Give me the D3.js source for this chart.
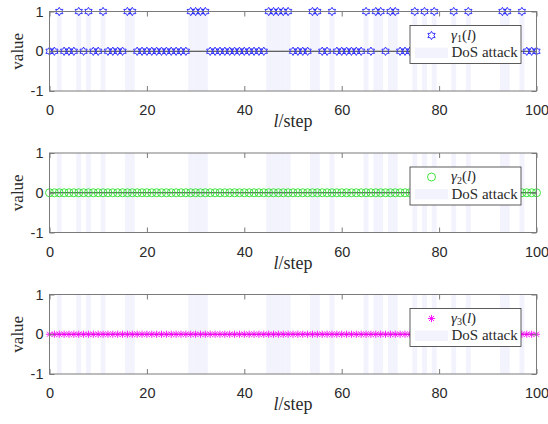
<!DOCTYPE html>
<html>
<head>
<meta charset="utf-8">
<script src="https://cdn.jsdelivr.net/npm/d3@7"></script>
<style>
body { margin: 0; background: #fff; }
svg { display: block; }
.serif { font-family: "Liberation Serif", "DejaVu Serif", "Times New Roman", serif; font-weight: normal; }
.sans { font-family: "Liberation Sans", Arial, sans-serif; }
</style>
</head>
<body>
<svg id="chart" width="548" height="424"></svg>
<script>
// steps l = 0..100
var steps = d3.range(0, 101)

// steps under DoS attack (shaded bands)
var dosSteps = [2, 6, 8, 11, 16, 17, 29, 30, 31, 32, 45, 46, 47, 48, 49, 54, 55, 58,
                65, 67, 68, 70, 71, 75, 77, 79, 83, 86, 93, 94, 97]

// gamma_1(l)
var gamma1 = [0,0,1,0,0,0,1,0,1,0,
              0,1,0,0,0,0,1,1,0,0,
              0,0,0,0,0,0,0,0,0,1,
              1,1,1,0,0,0,0,0,0,0,
              0,0,0,0,0,1,1,1,1,1,
              0,0,0,0,1,1,0,0,1,0,
              0,0,0,0,0,1,0,1,1,0,
              1,1,0,0,0,1,0,1,0,1,
              0,0,0,1,0,0,1,0,0,0,
              0,0,0,1,1,0,0,1,0,0,
              0]

// gamma_2(l) and gamma_3(l) stay at zero
var gamma2 = [0,0,0,0,0,0,0,0,0,0, 0,0,0,0,0,0,0,0,0,0, 0,0,0,0,0,0,0,0,0,0,
              0,0,0,0,0,0,0,0,0,0, 0,0,0,0,0,0,0,0,0,0, 0,0,0,0,0,0,0,0,0,0,
              0,0,0,0,0,0,0,0,0,0, 0,0,0,0,0,0,0,0,0,0, 0,0,0,0,0,0,0,0,0,0,
              0,0,0,0,0,0,0,0,0,0, 0]
var gamma3 = [0,0,0,0,0,0,0,0,0,0, 0,0,0,0,0,0,0,0,0,0, 0,0,0,0,0,0,0,0,0,0,
              0,0,0,0,0,0,0,0,0,0, 0,0,0,0,0,0,0,0,0,0, 0,0,0,0,0,0,0,0,0,0,
              0,0,0,0,0,0,0,0,0,0, 0,0,0,0,0,0,0,0,0,0, 0,0,0,0,0,0,0,0,0,0,
              0,0,0,0,0,0,0,0,0,0, 0]

var xTicks = [0, 20, 40, 60, 80, 100]
var yTicks = [-1, 0, 1]
var subscripts = ["1", "2", "3"]

// Layout
const svg = d3.select("#chart")
const panelTops = [11.5, 153, 294.5]
const h = 79.5
const bandColor = "#f3f3fd"
const axisColor = "#7a7a7a"
const textColor = "#2a2a2a"

const x = d3.scaleLinear().domain([0, 100]).range([49.5, 536.5])
const y = d3.scaleLinear().domain([-1, 1]).range([h, 0])
const stepW = x(1) - x(0)

// six-pointed star outline
function hexagram(r) {
    var pts = []
    for (var i = 0; i < 12; i++) {
        var a = -Math.PI / 2 + i * Math.PI / 6
        var rr = i % 2 == 0 ? r : r / Math.sqrt(3)
        pts.push([rr * Math.cos(a), rr * Math.sin(a)])
    }
    return "M" + pts.map(p => p[0].toFixed(2) + "," + p[1].toFixed(2)).join("L") + "Z"
}
// eight-armed asterisk
function asterisk(r) {
    var d = r * Math.SQRT1_2
    return `M${-r},0L${r},0M0,${-r}L0,${r}M${-d},${-d}L${d},${d}M${-d},${d}L${d},${-d}`
}

const panels = [
    { values: gamma1, color: "#2424ff", marker: hexagram(4.2) },
    { values: gamma2, color: "#2ee02e", marker: "circle" },
    { values: gamma3, color: "#ff00ff", marker: asterisk(3.6) }
]

function drawMarker(sel, p) {
    if (p.marker == "circle") {
        sel.append("circle").attr("r", 4).attr("fill", "none")
        .attr("stroke", p.color).attr("stroke-width", 0.9)
    } else {
        sel.append("path").attr("d", p.marker).attr("fill", "none")
        .attr("stroke", p.color).attr("stroke-width", 0.9)
    }
}

panels.forEach(function (p, i) {
    const g = svg.append("g").attr("transform", `translate(0,${panelTops[i]})`)

    // DoS bands
    g.selectAll("rect.band")
    .data(dosSteps)
    .enter().append("rect")
    .attr("class", "band")
    .attr("x", d => x(d) - stepW / 2)
    .attr("y", y(1))
    .attr("width", stepW)
    .attr("height", y(-1) - y(1))
    .attr("fill", bandColor)

    // reference lines
    var refs = i == 0 ? [0, 1] : [0]
    g.selectAll("line.ref")
    .data(refs)
    .enter().append("line")
    .attr("x1", x(0)).attr("x2", x(100))
    .attr("y1", d => y(d)).attr("y2", d => y(d))
    .attr("stroke", "#333").attr("stroke-width", 1)

    // markers
    g.selectAll("g.pt")
    .data(steps)
    .enter().append("g")
    .attr("transform", d => `translate(${x(d)},${y(p.values[d])})`)
    .each(function () { drawMarker(d3.select(this), p) })

    // axes box
    g.append("rect")
    .attr("x", x(0)).attr("y", y(1))
    .attr("width", x(100) - x(0)).attr("height", y(-1) - y(1))
    .attr("fill", "none").attr("stroke", axisColor).attr("stroke-width", 1)

    const fmt = d => String(d)
    const xb = g.append("g").attr("transform", `translate(0,${h})`)
    .call(d3.axisBottom(x).tickValues(xTicks).tickSize(-5).tickPadding(14).tickFormat(fmt))
    const xt = g.append("g")
    .call(d3.axisTop(x).tickValues(xTicks).tickSize(-5).tickFormat(""))
    const yl = g.append("g").attr("transform", `translate(${x(0)},0)`)
    .call(d3.axisLeft(y).tickValues(yTicks).tickSize(-5).tickPadding(6).tickFormat(fmt))
    const yr = g.append("g").attr("transform", `translate(${x(100)},0)`)
    .call(d3.axisRight(y).tickValues(yTicks).tickSize(-5).tickFormat(""))
    ;[xb, xt, yl, yr].forEach(a => {
        a.select(".domain").remove()
        a.attr("font-family", null).attr("font-size", null)
        a.selectAll("line").attr("stroke", axisColor)
        a.selectAll("text").attr("class", "sans").attr("fill", textColor).attr("font-size", 14.5)
    })

    // x label
    const xl = g.append("text")
    .attr("class", "serif")
    .attr("x", (x(0) + x(100)) / 2).attr("y", h + 36)
    .attr("text-anchor", "middle").attr("font-size", 18)
    .attr("fill", textColor)
    xl.append("tspan").attr("font-style", "italic").text("l")
    xl.append("tspan").text("/step")

    // y label
    g.append("text")
    .attr("class", "serif")
    .attr("transform", `translate(22.5,${h / 2}) rotate(-90)`)
    .attr("text-anchor", "middle").attr("font-size", 17)
    .attr("fill", textColor)
    .text("value")

    // legend
    const lg = g.append("g")
    lg.append("rect")
    .attr("x", 410).attr("y", 14).attr("width", 111).attr("height", 38)
    .attr("fill", "#fff").attr("stroke", "#333").attr("stroke-width", 0.8)
    drawMarker(lg.append("g").attr("transform", "translate(431.5,24)"), p)
    const lt = lg.append("text").attr("class", "serif").attr("x", 451).attr("y", 28)
    .attr("font-size", 15).attr("fill", textColor)
    lt.append("tspan").attr("font-style", "italic").text("γ")
    lt.append("tspan").attr("font-size", 10).attr("dy", 2.5).text(subscripts[i])
    lt.append("tspan").attr("dy", -2.5).text("(")
    lt.append("tspan").attr("font-style", "italic").text("l")
    lt.append("tspan").text(")")
    lg.append("rect")
    .attr("x", 415).attr("y", 36).attr("width", 33).attr("height", 10.5)
    .attr("fill", bandColor)
    lg.append("text").attr("class", "serif").attr("x", 451.5).attr("y", 45.5)
    .attr("font-size", 15).attr("fill", textColor)
    .text("DoS attack")
})
</script>
</body>
</html>
